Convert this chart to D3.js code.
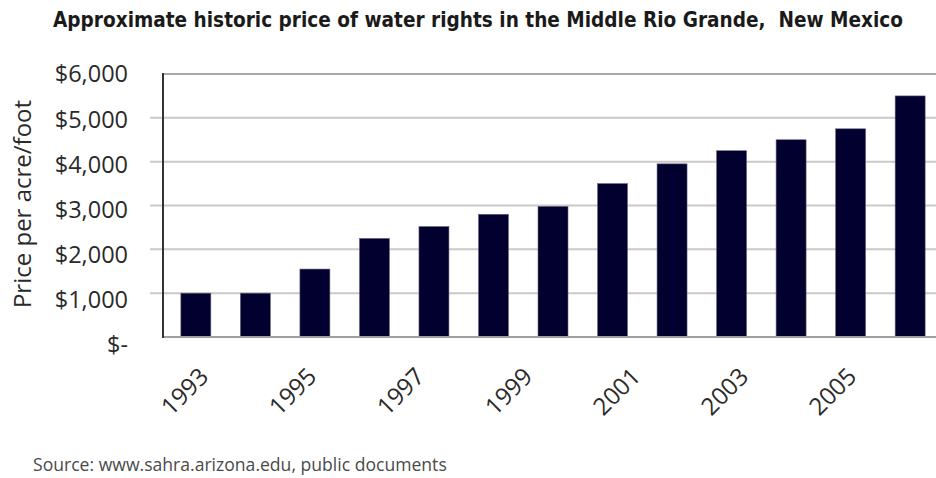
<!DOCTYPE html>
<html>
<head>
<meta charset="utf-8">
<script src="https://cdn.jsdelivr.net/npm/d3@7/dist/d3.min.js"></script>
<style>
  html, body { margin: 0; padding: 0; background: #fff; }
  svg { display: block; }
</style>
</head>
<body>
<svg id="chart" width="936" height="478"></svg>
<script>
// ---- data ----
const years = [1993, 1994, 1995, 1996, 1997, 1998, 1999, 2000, 2001, 2002, 2003, 2004, 2005];
const prices = [1000, 1000, 1550, 2250, 2520, 2800, 2980, 3500, 3950, 4250, 4500, 4750, 5500];
const yTicks = [0, 1000, 2000, 3000, 4000, 5000, 6000];
const yTickLabels = ["$-", "$1,000", "$2,000", "$3,000", "$4,000", "$5,000", "$6,000"];
const xLabelYears = [1993, 1995, 1997, 1999, 2001, 2003, 2005];
const titleText = "Approximate historic price of water rights in the Middle Rio Grande,  New Mexico";
const yAxisTitle = "Price per acre/foot";
const sourceText = "Source: www.sahra.arizona.edu, public documents";

const svg = d3.select("#chart");
const W = 936;
const plot = { left: 163, top: 74, bottom: 337, right: 943 };

const x = d3.scaleBand().domain(years).range([plot.left, plot.right])
  .paddingInner(0.496).paddingOuter(0.3);
const y = d3.scaleLinear().domain([0, 6000]).range([plot.bottom, plot.top]);
// label positions (text layer sits slightly offset from the plot layer in the original)
const yLab = d3.scaleLinear().domain([0, 6000]).range([345, 74]);
const xLab = d3.scaleLinear().domain([1993, 2005]).range([210, 858]);

// gridlines
const grid = svg.append("g");
grid.selectAll("line.g").data(yTicks.filter(t => t > 0 && t < 6000)).join("line")
  .attr("x1", 150).attr("x2", W)
  .attr("y1", d => y(d)).attr("y2", d => y(d))
  .attr("stroke", "#cdc8c8").attr("stroke-width", 2);
// top border
grid.append("line").attr("x1", plot.left).attr("x2", W)
  .attr("y1", y(6000)).attr("y2", y(6000))
  .attr("stroke", "#a8a8a8").attr("stroke-width", 2);

// bars
svg.append("g").selectAll("rect").data(years).join("rect")
  .attr("x", (d) => x(d))
  .attr("width", x.bandwidth())
  .attr("y", (d, i) => y(prices[i]))
  .attr("height", (d, i) => y(0) - y(prices[i]))
  .attr("fill", "#02002e")
  .attr("stroke", "#6b6880").attr("stroke-width", 0.6);

// bottom axis line
svg.append("line").attr("x1", plot.left).attr("x2", W)
  .attr("y1", y(0)).attr("y2", y(0))
  .attr("stroke", "#a0a0a0").attr("stroke-width", 2);
// left axis line
svg.append("line").attr("x1", plot.left).attr("x2", plot.left)
  .attr("y1", y(6000) - 1).attr("y2", y(0) + 1)
  .attr("stroke", "#333").attr("stroke-width", 2);

// y tick labels
svg.append("g").selectAll("text").data(yTicks).join("text")
  .attr("x", 128).attr("y", d => yLab(d)).attr("dy", "0.36em")
  .attr("text-anchor", "end")
  .style("font-family", "'Open Sans', sans-serif")
  .style("font-size", "23.5px").attr("fill", "#2a2a2a")
  .text((d, i) => yTickLabels[i]);

// x tick labels (rotated)
svg.append("g").selectAll("text").data(xLabelYears).join("text")
  .attr("transform", d => `translate(${xLab(d)},378) rotate(-45)`)
  .attr("text-anchor", "end")
  .style("font-family", "'Open Sans', sans-serif")
  .style("font-size", "24px").attr("fill", "#2a2a2a")
  .text(d => d);

// y axis title
svg.append("text")
  .attr("transform", "translate(31,204) rotate(-90)")
  .attr("text-anchor", "middle")
  .style("font-family", "'Open Sans', sans-serif")
  .style("font-size", "24px").attr("fill", "#2a2a2a")
  .text(yAxisTitle);

// title: size the font so the natural width matches the reference
const title = svg.append("text")
  .attr("x", 53).attr("y", 27)
  .style("font-family", "'DejaVu Sans Condensed', 'DejaVu Sans', sans-serif")
  .style("font-weight", "bold")
  .style("font-size", "20px").attr("fill", "#1a1a1a")
  .attr("xml:space", "preserve")
  .text(titleText);
const tw = title.node().getComputedTextLength();
if (tw > 0) title.style("font-size", (20 * 850 / tw).toFixed(2) + "px");

// source
const src = svg.append("text")
  .attr("x", 33).attr("y", 471)
  .style("font-family", "'Open Sans', sans-serif")
  .style("font-size", "16px").attr("fill", "#4a4a4a")
  .text(sourceText);
const sw = src.node().getComputedTextLength();
if (sw > 0) src.style("font-size", (16 * 414 / sw).toFixed(2) + "px");
</script>
</body>
</html>
